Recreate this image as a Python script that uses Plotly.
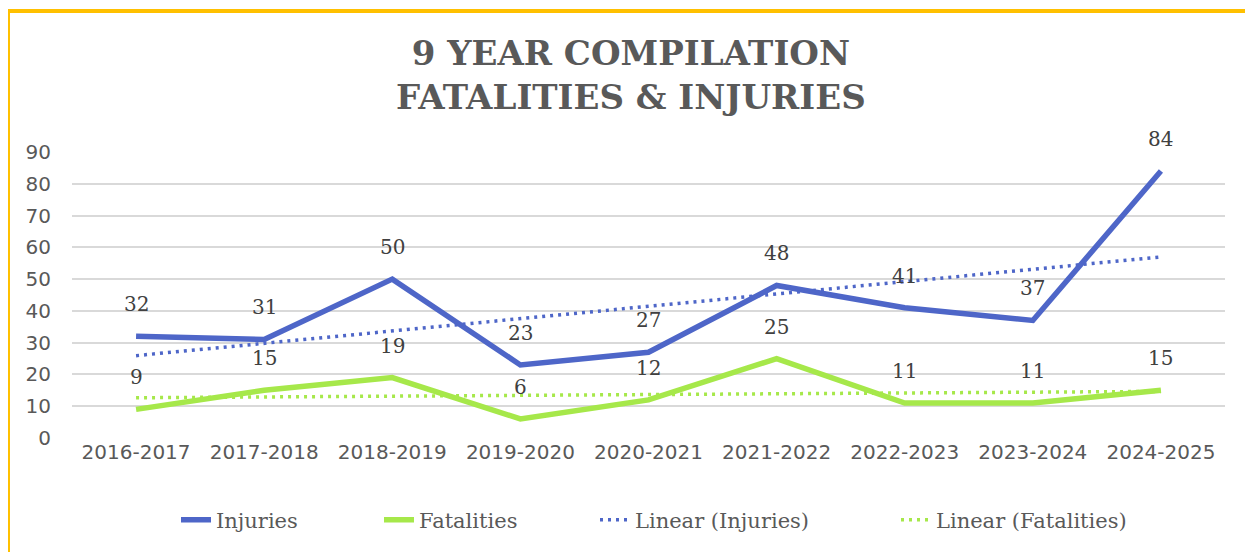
import plotly.graph_objects as go
import numpy as np

categories = ["2016-2017", "2017-2018", "2018-2019", "2019-2020", "2020-2021",
              "2021-2022", "2022-2023", "2023-2024", "2024-2025"]
injuries = [32, 31, 50, 23, 27, 48, 41, 37, 84]
fatalities = [9, 15, 19, 6, 12, 25, 11, 11, 15]
y_ticks = [0, 10, 20, 30, 40, 50, 60, 70, 80, 90]

BLUE = "#4E66C8"
GREEN = "#A6E84A"
TXT = "#595959"
LBL = "#404040"
SERIF = "DejaVu Serif"
SANS = "DejaVu Sans"

OFF = 8  # page body margin
W, H = 1253 - OFF, 552 - OFF
# plot area in page pixels
PL, PR, PT, PB = 72, 1225, 152, 438
L, R, T, B = PL - OFF, (W + OFF) - PR, PT - OFF, (H + OFF) - PB
pw, ph = PR - PL, PB - PT


def px2x(px):
    return (px - PL) / pw


def py2y(py):
    return (PB - py) / ph


def trend(vals):
    x = np.arange(len(vals))
    m, b = np.polyfit(x, vals, 1)
    return list(m * x + b)


fig = go.Figure()
fig.add_trace(go.Scatter(x=categories, y=injuries, mode="lines", name="Injuries",
                         line=dict(color=BLUE, width=5.5), legend="legend2"))
fig.add_trace(go.Scatter(x=categories, y=fatalities, mode="lines", name="Fatalities",
                         line=dict(color=GREEN, width=5.5), legend="legend3"))
fig.add_trace(go.Scatter(x=categories, y=trend(injuries), mode="lines", name="Linear (Injuries)",
                         line=dict(color=BLUE, width=3.5, dash="3px,5px"), legend="legend4"))
fig.add_trace(go.Scatter(x=categories, y=trend(fatalities), mode="lines", name="Linear (Fatalities)",
                         line=dict(color=GREEN, width=3.5, dash="3px,5px"), legend="legend5"))

annotations = []
for series in (injuries, fatalities):
    for c, v in zip(categories, series):
        annotations.append(dict(x=c, y=v, xref="x", yref="y", text=str(v), showarrow=False,
                                yshift=32, yanchor="middle",
                                font=dict(family=SERIF, size=20, color=LBL)))

annotations.append(dict(text="<b>9 YEAR COMPILATION<br>FATALITIES & INJURIES</b>",
                        xref="paper", yref="paper", x=px2x(631), y=py2y(75),
                        xanchor="center", yanchor="middle", showarrow=False,
                        font=dict(family=SERIF, size=34, color=TXT)))

legend_common = dict(orientation="h", yanchor="middle", xanchor="left", y=py2y(520),
                     bgcolor="rgba(0,0,0,0)", font=dict(family=SERIF, size=21, color=TXT))
text_starts = [218, 421, 637, 938]

fig.update_layout(
    width=W, height=H,
    margin=dict(l=L, r=R, t=T, b=B, autoexpand=False),
    paper_bgcolor="white", plot_bgcolor="white",
    showlegend=True,
    xaxis=dict(type="category", categoryorder="array", categoryarray=categories,
               range=[-0.5, 8.5], showgrid=False, showline=False, zeroline=False,
               ticks="", tickfont=dict(family=SANS, size=20, color=TXT)),
    yaxis=dict(range=[0, 90], tickvals=y_ticks, showgrid=True, gridcolor="#D9D9D9",
               gridwidth=1.5, zeroline=False, showline=False, ticks="",
               tickfont=dict(family=SANS, size=20, color=TXT), ticklabelstandoff=20),
    legend2=dict(legend_common, x=px2x(text_starts[0] - 42)),
    legend3=dict(legend_common, x=px2x(text_starts[1] - 42)),
    legend4=dict(legend_common, x=px2x(text_starts[2] - 42)),
    legend5=dict(legend_common, x=px2x(text_starts[3] - 42)),
    annotations=annotations,
    shapes=[dict(type="rect", xref="paper", yref="paper",
                 x0=px2x(8), x1=px2x(1280), y0=py2y(580), y1=py2y(11),
                 line=dict(color="#FFC000", width=4), fillcolor="rgba(0,0,0,0)", layer="above")],
)

fig.write_html("out.html")
